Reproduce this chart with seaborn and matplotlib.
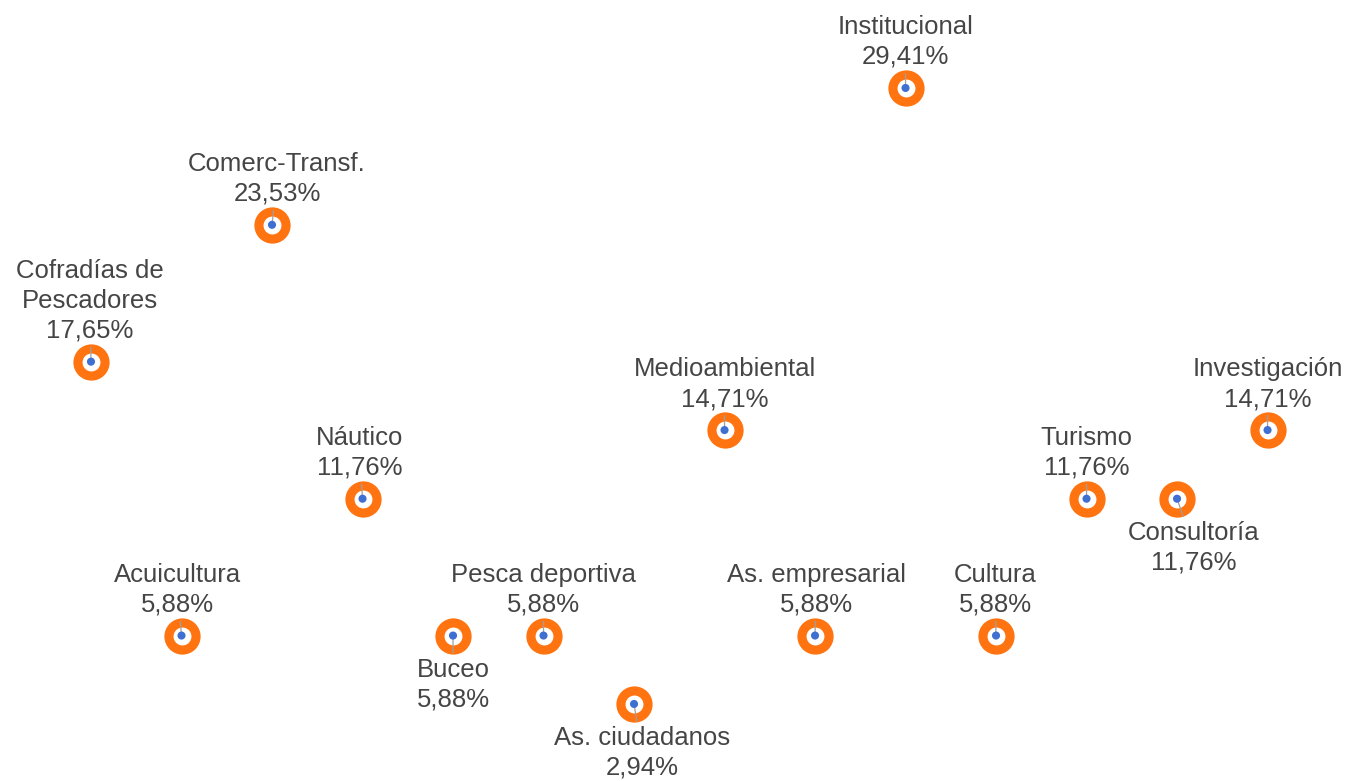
import matplotlib.pyplot as plt
import pandas as pd
import seaborn as sns

# Data
categories = ['Cofradías de\nPescadores', 'Acuicultura', 'Comerc-Transf.', 'Náutico', 'Buceo',
              'Pesca deportiva', 'As. ciudadanos', 'Medioambiental', 'As. empresarial',
              'Institucional', 'Cultura', 'Turismo', 'Consultoría', 'Investigación']
values = [17.65, 5.88, 23.53, 11.76, 5.88, 5.88, 2.94, 14.71, 5.88, 29.41, 5.88, 11.76, 11.76, 14.71]
label_below = [False, False, False, False, True, False, True, False, False, False, False, False, True, False]
label_dx = [-1, -4, 5, -3, 0, 0, 8, 0, 1, 0, -1, 0, 17, 0]

df = pd.DataFrame({'cat': categories, 'pos': range(len(categories)), 'value': values})

sns.set_style('white')
plt.rcParams['font.family'] = ['Liberation Sans', 'DejaVu Sans']

fig = plt.figure(figsize=(13.68, 7.81), dpi=100)
ax = fig.add_axes([0, 0, 1, 1])

# orange ring with white centre, then the small blue dot
sns.scatterplot(data=df, x='pos', y='value', ax=ax, s=380, color='white',
                edgecolor='#FF7410', linewidth=6.6, zorder=2, legend=False)
sns.scatterplot(data=df, x='pos', y='value', ax=ax, s=34, color='#3F6FD0',
                edgecolor='none', zorder=4, legend=False)

for i, row in df.iterrows():
    txt = f"{row['cat']}\n{row['value']:.2f}%".replace('.', ',')
    txt = txt.replace('As, ', 'As. ').replace('Transf,', 'Transf.')
    below = label_below[i]
    dy = -22 if below else 19
    ax.annotate(txt, xy=(row['pos'], row['value']), xytext=(label_dx[i], dy),
                textcoords='offset pixels', ha='center',
                va='top' if below else 'bottom', multialignment='center',
                fontsize=18.5, color='#454545', linespacing=1.3,
                arrowprops=dict(arrowstyle='-', color='#A0A0A0', lw=0.9,
                                shrinkA=1, shrinkB=0),
                zorder=3)

ax.set_xlim(-1.0055, 14.11)
ax.set_ylim(-0.37, 33.19)
ax.axis('off')

fig.savefig('out.png', dpi=100, facecolor='white')
